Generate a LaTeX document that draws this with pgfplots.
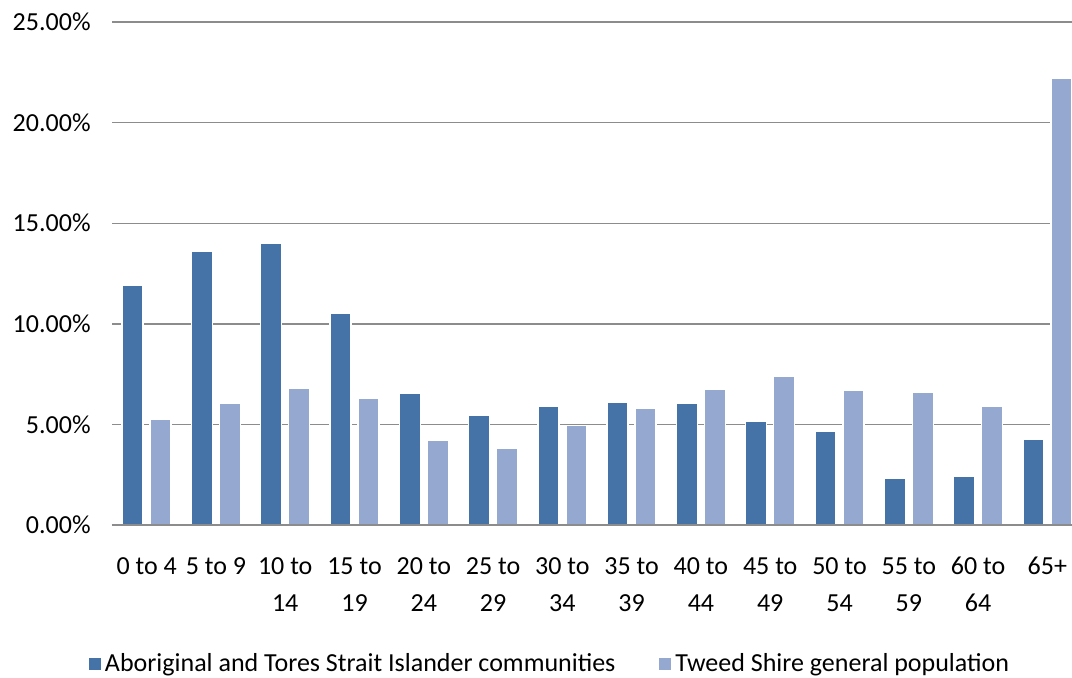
\documentclass[border=0pt]{standalone}
\usepackage{pgfplots}
\pgfplotsset{compat=1.18}
\usepackage{fontspec}
\setmainfont{Carlito}
\definecolor{darkbar}{HTML}{4673A7}
\definecolor{lightbar}{HTML}{95A9D0}
\definecolor{gridgray}{HTML}{8C8C8C}
\begin{document}
\fontsize{13}{18.5}\selectfont
\begin{tikzpicture}
\path[use as bounding box] (-56pt,-76pt) rectangle (480pt,262.5pt);
\begin{axis}[
    scale only axis,
    width=485pt, height=251.5pt,
    xmin=-0.5, xmax=13.5,
    ymin=0, ymax=25,
    ybar=3.5pt,
    bar width=10.5pt,
    xtick=data,
    xticklabels={0 to 4,5 to 9,10 to\\14,15 to\\19,20 to\\24,25 to\\29,30 to\\34,35 to\\39,40 to\\44,45 to\\49,50 to\\54,55 to\\59,60 to\\64,65+},
    xticklabel style={align=center, anchor=north, inner sep=0pt, yshift=-16pt},
    ytick={0,5,...,25},
    yticklabel={\pgfmathprintnumber[fixed,fixed zerofill,precision=2]{\tick}\%},
    yticklabel style={anchor=east, inner sep=0pt, xshift=-10.5pt},
    /pgf/number format/assume math mode=true,
    major tick length=0pt,
    axis line style={draw=none},
    ymajorgrids=true,
    major grid style={gridgray, line width=0.7pt},
    every axis plot/.append style={draw=white, line width=0.7pt},
    legend columns=2,
    legend style={at={(0.4526,-0.2764)}, anchor=center, draw=none, fill=none,
        font=\fontsize{13}{15}\selectfont,
        /tikz/every even column/.append style={column sep=20pt}},
    legend image code/.code={\fill[#1, draw=none] (-1pt,-3pt) rectangle (5pt,3pt);},
]
\addplot[fill=darkbar] coordinates {
    (0,11.9) (1,13.6) (2,14.0) (3,10.5) (4,6.57) (5,5.47) (6,5.89)
    (7,6.12) (8,6.05) (9,5.14) (10,4.66) (11,2.32) (12,2.44) (13,4.28)
};
\addlegendentry{Aboriginal and Tores Strait Islander communities}
\addplot[fill=lightbar] coordinates {
    (0,5.27) (1,6.07) (2,6.80) (3,6.30) (4,4.23) (5,3.83) (6,4.96)
    (7,5.80) (8,6.75) (9,7.41) (10,6.68) (11,6.62) (12,5.89) (13,22.19)
};
\addlegendentry{Tweed Shire general population}
% baseline drawn over the bars' white edges
\draw[gridgray, line width=0.7pt] (axis cs:-0.5,0) -- (axis cs:13.5,0);
\end{axis}
\end{tikzpicture}
\end{document}
